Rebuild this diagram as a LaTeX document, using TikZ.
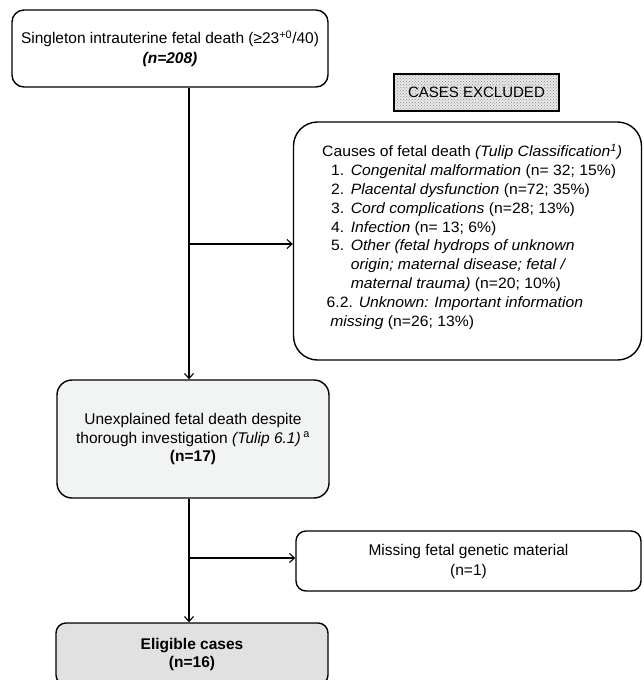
\documentclass[tikz,border=0pt]{standalone}
\usepackage{fontspec}
\setmainfont{Liberation Sans}
\usetikzlibrary{arrows.meta,patterns}

\definecolor{unexplfill}{HTML}{F2F4F4}
\definecolor{eligfill}{HTML}{E1E1E1}

\begin{document}
\begin{tikzpicture}[x=1pt,y=-1pt,
    box/.style={draw, line width=1.4pt, rounded corners=#1, inner sep=0pt, align=center},
    box/.default=12pt,
    txt/.style={font=\fontsize{15.5}{#1}\selectfont},
    txt/.default=20,
    flow/.style={line width=1.1pt, -{Straight Barb[length=5pt,width=9pt,line width=1.1pt]}}
  ]
  \clip (0,0) rectangle (643,680);

  % spine of the flow chart
  \coordinate (spine) at (189,0);

  \node[box, txt, minimum width=316pt, minimum height=77pt] (start) at (170,48.5)
    {Singleton intrauterine fetal death (≥23\textsuperscript{+0}/40)\\ \textbf{\textit{(n=208)}}};

  \node[draw, line width=1.2pt, inner sep=0pt, minimum width=165pt, minimum height=37pt,
        preaction={fill=gray!18}, pattern=crosshatch dots, pattern color=gray!90,
        font=\fontsize{15}{18}\selectfont]
    (excluded) at (476.5,92.5) {CASES EXCLUDED};

  \node[box=24pt, minimum width=348pt, minimum height=238pt] (causes) at (467.5,241) {};
  \node[anchor=north west, inner sep=0pt, font=\fontsize{15}{18.9}\selectfont]
    (causestext) at (322,143)
    {\resizebox{300pt}{\height}{\begin{tabular}{@{}l@{}}
     Causes of fetal death \textit{(Tulip Classification\textsuperscript{1})}\\
     \hspace*{8.5pt}\makebox[18.8pt][l]{1.}\textit{Congenital malformation} (n= 32; 15\%)\\
     \hspace*{8.5pt}\makebox[18.8pt][l]{2.}\textit{Placental dysfunction} (n=72; 35\%)\\
     \hspace*{8.5pt}\makebox[18.8pt][l]{3.}\textit{Cord complications} (n=28; 13\%)\\
     \hspace*{8.5pt}\makebox[18.8pt][l]{4.}\textit{Infection} (n= 13; 6\%)\\
     \hspace*{8.5pt}\makebox[18.8pt][l]{5.}\textit{Other (fetal hydrops of unknown}\\
     \hspace*{27.3pt}\textit{origin; maternal disease; fetal /}\\
     \hspace*{27.3pt}\textit{maternal trauma)} (n=20; 10\%)\\
     \hspace*{4.3pt}6.2. \textit{Unknown: Important information}\\
     \hspace*{7.7pt}\textit{missing} (n=26; 13\%)
     \end{tabular}}};

  \node[box=15pt, txt=18.5, fill=unexplfill, minimum width=272pt, minimum height=118pt] (unexpl) at (193,439)
    {Unexplained fetal death despite\\ thorough investigation \textit{(Tulip 6.1)}\,\textsuperscript{a}\\ \textbf{(n=17)}};

  \node[box=10pt, txt, minimum width=345pt, minimum height=60pt] (missing) at (468.5,561)
    {Missing fetal genetic material\\ (n=1)};

  \node[box=10pt, txt=18, fill=eligfill, minimum width=272pt, minimum height=62pt] (eligible) at (192,654)
    {\textbf{Eligible cases}\\ \textbf{(n=16)}};

  % connectors
  \coordinate (b1) at (189,244);
  \coordinate (b2) at (189,558);
  \draw[flow] (start.south -| spine) -- (unexpl.north -| spine);
  \draw[flow] (b1) -- (b1 -| causes.west);
  \draw[flow] (unexpl.south -| spine) -- (eligible.north -| spine);
  \draw[flow] (b2) -- (b2 -| missing.west);
\end{tikzpicture}
\end{document}
